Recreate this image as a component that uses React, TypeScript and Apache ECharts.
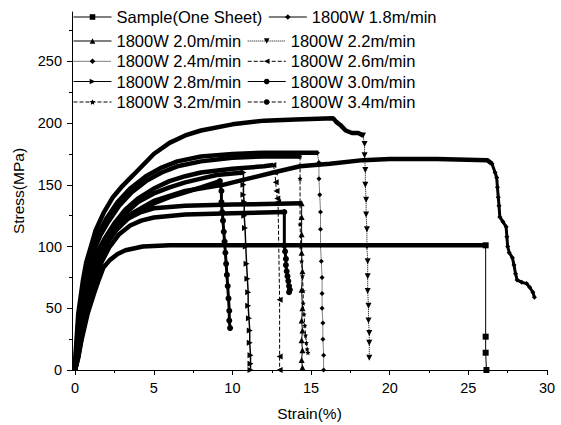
import React, { useEffect, useRef } from "react";
import * as echarts from "echarts";

const xTicks = [0, 5, 10, 15, 20, 25, 30];
const xMinorTicks = [2.5, 7.5, 12.5, 17.5, 22.5, 27.5];
const yTicks = [0, 50, 100, 150, 200, 250];
const yMinorTicks = [25, 75, 125, 175, 225, 275];

const seriesNames = [
  "Sample(One Sheet)",
  "1800W 1.8m/min",
  "1800W 2.0m/min",
  "1800W 2.2m/min",
  "1800W 2.4m/min",
  "1800W 2.6m/min",
  "1800W 2.8m/min",
  "1800W 3.0m/min",
  "1800W 3.2m/min",
  "1800W 3.4m/min",
];

// [strain %, stress MPa]
const sampleCurve = [[0,0],[0.2,10],[0.4,24],[0.8,46],[1.2,62],[1.5,73],[1.8,83],[2.2,89],[2.7,94],[3.2,97],[4.3,100],[6,101],[10,101],[15,101],[20,101],[26.1,101]];
const sampleDrop = [[26.1,101],[26.1,27],[26.1,14],[26.15,0]];

const w18Curve = [[0,0],[0.15,12],[0.45,41],[0.8,64],[1.1,78],[1.5,91],[2.0,103],[2.7,116],[3.5,126],[5,137],[7,145],[9.4,150],[11,155],[12.6,160],[14.3,165],[16.2,167],[18.3,170],[20,171],[23,171],[26.2,170],[26.5,167]];
const w18Drop = [[26.5,167],[26.7,160],[26.8,156],[26.85,148],[26.9,140],[26.95,133],[27.0,124],[27.2,120],[27.4,116],[27.45,108],[27.5,100],[27.6,95],[27.8,91],[27.9,85],[28.0,78],[28.1,73],[28.4,71],[28.7,70],[28.9,67],[29.1,63],[29.2,59]];

const w20Curve = [[0,0],[0.2,12],[0.5,38],[0.85,60],[1.2,77],[1.6,92],[2.1,105],[2.7,115],[3.4,123],[4.2,128],[5,131],[7,133],[10,134],[14.4,135]];
const w20Drop = [[14.4,135],[14.4,124],[14.4,110],[14.4,95],[14.45,80],[14.4,65],[14.45,50],[14.4,40],[14.45,32],[14.4,24],[14.45,16],[14.4,8],[14.45,2]];

const w22Curve = [[0,0],[0.02,12],[0.2,46],[0.5,73],[0.7,87],[1.0,100],[1.3,113],[1.8,127],[2.4,140],[3.0,149],[3.7,158],[5,175],[6,184],[7,190],[8,194],[10,199],[12,202],[14,203],[16.4,204],[16.6,201],[16.9,198],[17.2,194],[17.6,192],[18.0,192],[18.3,190]];
const w22Drop = [[18.3,190],[18.4,183],[18.4,174],[18.45,162],[18.45,150],[18.5,138],[18.5,126],[18.55,114],[18.55,100],[18.6,88],[18.6,76],[18.6,64],[18.65,52],[18.65,40],[18.7,30],[18.7,22],[18.7,10]];

const w24Curve = [[0,0],[0.05,12],[0.25,44],[0.55,70],[0.8,85],[1.1,98],[1.5,111],[2,123],[2.7,136],[3.5,147],[4.5,157],[5.5,164],[6.5,169],[8,173],[10,175],[12,176],[14,176],[15.4,176]];
const w24Drop = [[15.4,176],[15.5,168],[15.5,155],[15.55,142],[15.6,128],[15.6,114],[15.6,101],[15.65,88],[15.7,75],[15.7,62],[15.7,50],[15.75,38],[15.75,25],[15.8,12],[15.8,0]];

const w26Curve = [[0,0],[0.1,12],[0.35,42],[0.7,67],[1.0,81],[1.4,95],[1.9,107],[2.5,119],[3.2,130],[4,139],[5,147],[6,153],[7,157],[8,160],[10,163],[12,165],[12.6,166]];
const w26Drop = [[12.6,166],[12.7,160],[12.75,152],[12.8,145],[12.85,139],[12.9,136],[13.0,57],[13.0,11],[13.0,0]];

const w28Curve = [[0,0],[0.1,11],[0.4,42],[0.75,66],[1.05,80],[1.45,93],[1.95,105],[2.5,116],[3.2,127],[4,136],[5,143],[6,148],[7,152],[8,155],[9,158],[10.7,160]];
const w28Drop = [[10.7,160],[10.7,150],[10.7,142],[10.75,136],[10.75,125],[10.8,115],[10.85,100],[10.9,86],[10.95,74],[11.0,63],[11.0,52],[11.05,42],[11.1,32],[11.1,22],[11.15,12],[11.15,5],[11.15,0]];

const w30Curve = [[0,0],[0.2,11],[0.55,36],[0.9,57],[1.3,74],[1.7,88],[2.2,100],[2.8,110],[3.5,117],[4.2,121],[5,123.5],[7,126],[10,127],[13.3,128]];
const w30Drop = [[13.3,128],[13.3,101],[13.35,96],[13.4,90],[13.4,85],[13.45,80],[13.5,76],[13.55,72],[13.6,68],[13.65,65],[13.6,63]];

const w32Curve = [[0,0],[0.05,10],[0.3,44],[0.6,69],[0.9,85],[1.2,97],[1.6,109],[2.1,120],[2.8,133],[3.6,144],[4.5,153],[5.5,160],[6.5,165],[8,169],[10,172],[12,173],[14.3,173]];
const w32Drop = [[14.3,173],[14.3,155],[14.3,135],[14.3,118],[14.35,100],[14.4,88],[14.45,76],[14.5,64],[14.5,54],[14.55,45],[14.6,36],[14.65,28],[14.7,22],[14.75,17],[14.8,14]];

const w34Curve = [[0,0],[0.15,12],[0.45,40],[0.8,63],[1.1,77],[1.5,90],[2.0,102],[2.6,113],[3.3,122],[4,129],[5,135],[6,140],[7,144],[8,148],[9.2,153]];
const w34Drop = [[9.2,153],[9.3,145],[9.3,136],[9.35,128],[9.4,121],[9.45,112],[9.5,104],[9.55,95],[9.6,86],[9.65,77],[9.7,68],[9.75,58],[9.8,48],[9.8,40],[9.85,34]];

const curves = [sampleCurve, w18Curve, w20Curve, w22Curve, w24Curve, w26Curve, w28Curve, w30Curve, w32Curve, w34Curve];
const drops = [sampleDrop, w18Drop, w20Drop, w22Drop, w24Drop, w26Drop, w28Drop, w30Drop, w32Drop, w34Drop];

const STAR = "path://M0,-10L2.9,-4L9.5,-3.1L4.7,1.5L5.9,8.1L0,5L-5.9,8.1L-4.7,1.5L-9.5,-3.1L-2.9,-4Z";
const symbols = ["rect", "diamond", "triangle", "triangle", "diamond", "triangle", "triangle", "circle", STAR, "circle"];
const symbolRotations = [0, 0, 0, 180, 0, 90, -90, 0, 0, 0];
const dropSymbolSizes = [6, 5, 6, 6, 5, 6, 6, 6, 5, 6];
const dropLineWidths = [1, 3, 1, 1, 1, 1, 1.5, 3, 1, 3];
const lineTypes = ["solid", "solid", "solid", "dotted", "dotted", "dashed", "solid", "solid", "dashed", "dashed"];

const legendRows = [[0, 1], [2, 3], [4, 5], [6, 7], [8, 9]];
const legendTops = [8.5, 32.5, 52.8, 73, 93.5];

const FONT = "'Liberation Sans', Arial, Helvetica, sans-serif";

export default function App() {
  const ref = useRef<HTMLDivElement>(null);
  useEffect(() => {
    if (!ref.current) return;
    const chart = echarts.init(ref.current, null, { renderer: "svg" });
    const series: any[] = [];
    seriesNames.forEach((name, i) => {
      series.push({
        type: "line",
        name,
        data: curves[i],
        xAxisIndex: 0,
        yAxisIndex: 0,
        symbol: symbols[i],
        symbolRotate: symbolRotations[i],
        showSymbol: false,
        lineStyle: { color: "#000", width: 4.5 },
        itemStyle: { color: "#000" },
        z: 3,
      });
    });
    seriesNames.forEach((name, i) => {
      series.push({
        type: "line",
        name,
        data: drops[i],
        xAxisIndex: 0,
        yAxisIndex: 0,
        symbol: symbols[i],
        symbolRotate: symbolRotations[i],
        symbolSize: dropSymbolSizes[i],
        showSymbol: true,
        showAllSymbol: true,
        lineStyle: { color: "#000", width: dropLineWidths[i], type: dropLineWidths[i] > 1 ? "solid" : lineTypes[i] },
        itemStyle: { color: "#000" },
        z: 2,
      });
    });

    const legend = legendRows.map((row, r) => ({
      left: 73,
      top: legendTops[r],
      orient: "horizontal",
      padding: 0,
      itemGap: 6,
      itemWidth: 38,
      itemHeight: 7,
      selectedMode: false,
      textStyle: { fontSize: 16.5, color: "#000", fontFamily: FONT },
      data: row.map((k) => ({
        name: seriesNames[k],
        lineStyle: { type: lineTypes[k], width: 1, color: "#000" },
        itemStyle: { color: "#000" },
      })),
    }));

    const axisLineStyle = { color: "#000", width: 1 };
    chart.setOption({
      animation: false,
      backgroundColor: "#fff",
      grid: { left: 72, right: 14, top: 12, bottom: 55, containLabel: false, outerBoundsMode: "none" },
      legend,
      xAxis: [
        {
          type: "value",
          min: -0.2,
          max: 30,
          position: "bottom",
          axisLine: { show: true, onZero: false, lineStyle: axisLineStyle },
          axisTick: { show: true, customValues: xTicks, length: 5, lineStyle: axisLineStyle },
          axisLabel: { customValues: xTicks, color: "#000", fontSize: 14.5, margin: 10, fontFamily: FONT },
          splitLine: { show: false },
          name: "Strain(%)",
          nameLocation: "middle",
          nameGap: 35,
          nameTextStyle: { fontSize: 15.5, color: "#000", fontFamily: FONT },
        },
        {
          type: "value",
          min: -0.2,
          max: 30,
          position: "bottom",
          axisLine: { show: false, onZero: false },
          axisTick: { show: true, customValues: xMinorTicks, length: 3, lineStyle: axisLineStyle },
          axisLabel: { show: false },
          splitLine: { show: false },
        },
      ],
      yAxis: [
        {
          type: "value",
          min: 0,
          max: 290,
          position: "left",
          axisLine: { show: true, onZero: false, lineStyle: axisLineStyle },
          axisTick: { show: true, customValues: yTicks, length: 5, lineStyle: axisLineStyle },
          axisLabel: { customValues: yTicks, color: "#000", fontSize: 14.5, margin: 10, fontFamily: FONT },
          splitLine: { show: false },
          name: "Stress(MPa)",
          nameLocation: "middle",
          nameGap: 37,
          nameRotate: 90,
          nameTextStyle: { fontSize: 15.5, color: "#000", fontFamily: FONT },
        },
        {
          type: "value",
          min: 0,
          max: 290,
          position: "left",
          axisLine: { show: false, onZero: false },
          axisTick: { show: true, customValues: yMinorTicks, length: 3, lineStyle: axisLineStyle },
          axisLabel: { show: false },
          splitLine: { show: false },
        },
      ],
      series,
    });
    return () => chart.dispose();
  }, []);
  return (
    <div
      ref={ref}
      style={{ position: "fixed", left: 0, top: 0, width: 561, height: 425, background: "#fff" }}
    />
  );
}
